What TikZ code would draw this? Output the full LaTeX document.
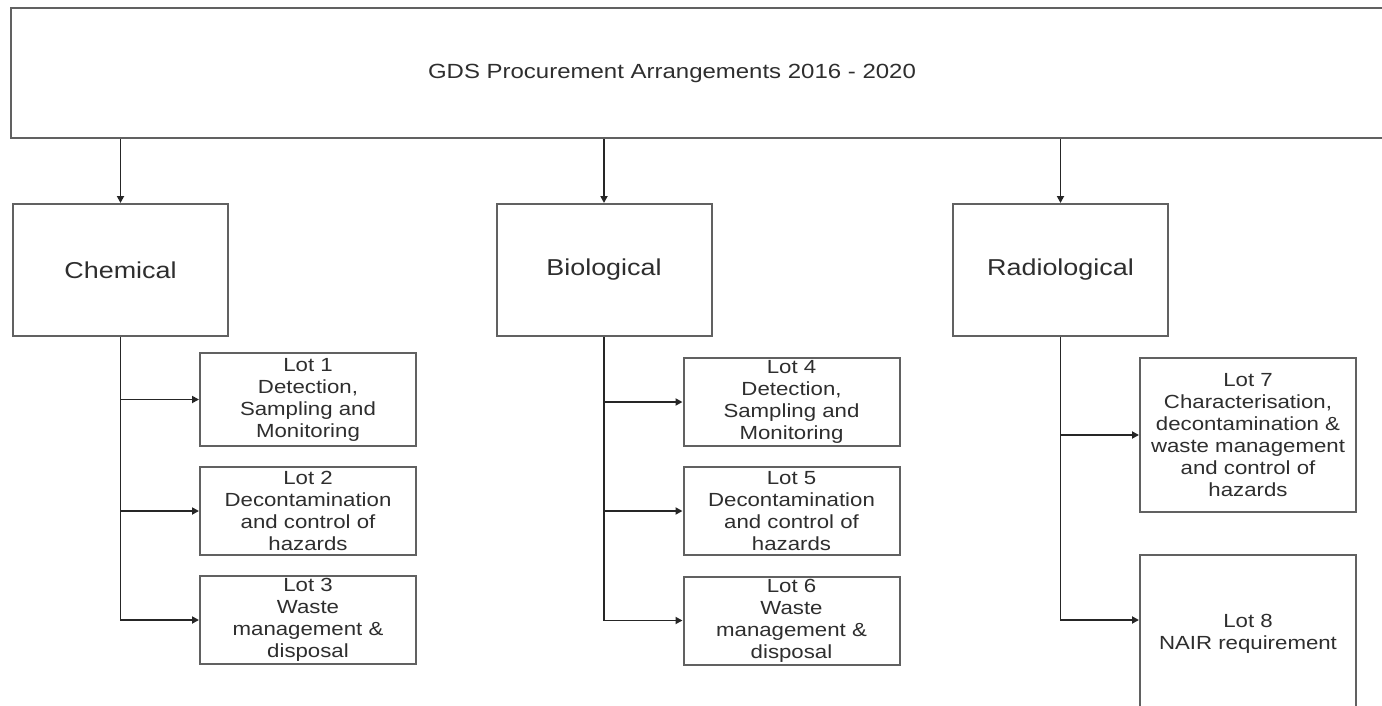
\documentclass[tikz,border=0pt]{standalone}
\usepackage{fontspec}
\setmainfont{Liberation Sans}[FakeStretch=1.17]
\usetikzlibrary{arrows.meta}

\begin{document}
\begin{tikzpicture}[x=1pt, y=-1pt,
    box/.style={draw=black!62, line width=2pt, inner sep=0pt, align=center, text=black!82},
    catbox/.style={box, minimum width=215pt, minimum height=132pt, font=\fontsize{23pt}{26pt}\selectfont},
    lotbox/.style={box, minimum width=216pt, minimum height=88pt, font=\fontsize{19pt}{22pt}\selectfont},
    link/.style={draw=black!85, line width=1.8pt, -{Triangle[length=7pt, width=7pt]}}]
    \useasboundingbox[fill=white] (0,0) rectangle (1382,706);

    \node[box, minimum width=1400pt, minimum height=130pt, anchor=north west] (gds) at (10,7) {};
    \node[text=black!82, font=\fontsize{20.5pt}{24pt}\selectfont] (title) at (672,73) {GDS Procurement Arrangements 2016 - 2020};

    \node[catbox] (chem) at (120.5,270) {Chemical};
    \node[catbox] (bio) at (604,270) {Biological};
    \node[catbox] (rad) at (1060.5,270) {Radiological};

    \node[lotbox, minimum height=93pt] (lot1) at (308,399.5) {Lot 1\\Detection,\\Sampling and\\Monitoring};
    \node[lotbox] (lot2) at (308,511) {Lot 2\\Decontamination\\and control of\\hazards};
    \node[lotbox] (lot3) at (308,620) {Lot 3\\Waste\\management \&\\disposal};

    \node[lotbox] (lot4) at (791.5,402) {Lot 4\\Detection,\\Sampling and\\Monitoring};
    \node[lotbox] (lot5) at (791.5,511) {Lot 5\\Decontamination\\and control of\\hazards};
    \node[lotbox] (lot6) at (791.5,620.5) {Lot 6\\Waste\\management \&\\disposal};

    \node[lotbox, minimum height=154pt] (lot7) at (1248,435) {Lot 7\\Characterisation,\\decontamination \&\\waste management\\and control of\\hazards};
    \node[lotbox, minimum height=157pt] (lot8) at (1248,633.5) {Lot 8\\NAIR requirement};

    \foreach \c in {chem, bio, rad} {
        \draw[link] (\c.north |- gds.south) -- (\c.north);
    };
    \foreach \c/\a/\b/\z in {chem/lot1/lot2/lot3, bio/lot4/lot5/lot6} {
        \draw[link] (\c.south) |- (\z.west);
        \draw[link] (\c.south |- \a.west) -- (\a.west);
        \draw[link] (\c.south |- \b.west) -- (\b.west);
    };
    \draw[link] (rad.south) |- ([yshift=13.5pt]lot8.west);
    \draw[link] (rad.south |- lot7.west) -- (lot7.west);
\end{tikzpicture}
\end{document}
